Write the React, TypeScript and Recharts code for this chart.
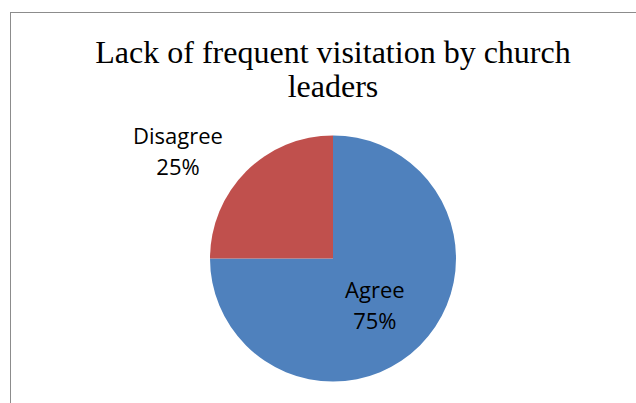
import React from "react";
import { PieChart, Pie, Cell } from "recharts";

const categories = ["Agree", "Disagree"];
const values = [75, 25];
const percentLabels = ["75%", "25%"];
const colors = ["#4F81BD", "#C0504D"];
const titleLines = ["Lack of frequent visitation by church", "leaders"];

const data = categories.map((name, i) => ({ name, value: values[i], pct: percentLabels[i] }));

// label anchor, as a fraction of the outer radius from the pie centre
const labelPlacement: Record<string, { fx: number; fy: number }> = {
  Agree: { fx: 0.34, fy: 0.32 },
  Disagree: { fx: -1.26, fy: -0.93 },
};

const renderLabel = (props: any) => {
  const { cx, cy, outerRadius, index } = props;
  const d = data[index];
  const p = labelPlacement[d.name];
  const x = cx + outerRadius * p.fx;
  const y = cy + outerRadius * p.fy;
  return (
    <text
      x={x}
      y={y}
      textAnchor="middle"
      fill="#000"
      fontFamily="'Open Sans', sans-serif"
      fontSize={22}
    >
      <tspan x={x} dy={0}>{d.name}</tspan>
      <tspan x={x} dy={31}>{d.pct}</tspan>
    </text>
  );
};

export default function App() {
  return (
    <div
      style={{
        position: "absolute",
        left: 0,
        top: 0,
        width: 636,
        height: 403,
        overflow: "hidden",
        background: "#fff",
      }}
    >
      <div
        style={{
          position: "absolute",
          left: 10,
          top: 12,
          width: 700,
          height: 500,
          border: "1.5px solid #8c8c8c",
        }}
      />
      <svg
        width={636}
        height={120}
        style={{ position: "absolute", left: 0, top: 0 }}
      >
        {titleLines.map((t, i) => (
          <text
            key={i}
            x={333}
            y={63 + i * 34}
            textAnchor="middle"
            fontFamily="'Liberation Serif', 'Times New Roman', serif"
            fontSize={32}
            fill="#000"
          >
            {t}
          </text>
        ))}
      </svg>
      <div style={{ position: "absolute", left: 0, top: 0 }}>
        <PieChart width={636} height={403} margin={{ top: 0, right: 0, bottom: 0, left: 0 }}>
          <Pie
            data={data}
            dataKey="value"
            nameKey="name"
            cx={333}
            cy={258.5}
            outerRadius={123}
            startAngle={90}
            endAngle={-270}
            stroke="none"
            isAnimationActive={false}
            labelLine={false}
            label={renderLabel}
          >
            {data.map((d, i) => (
              <Cell key={d.name} fill={colors[i]} />
            ))}
          </Pie>
        </PieChart>
      </div>
    </div>
  );
}
